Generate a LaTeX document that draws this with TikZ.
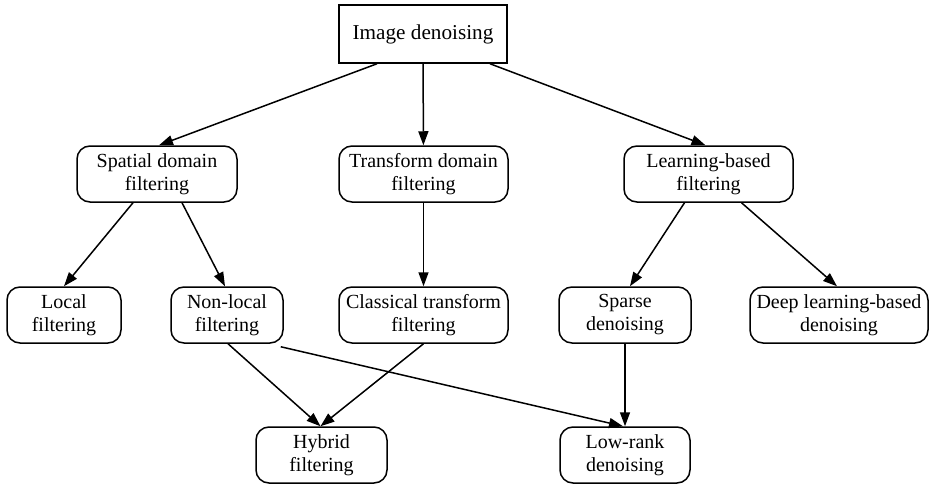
\documentclass[tikz,border=0pt]{standalone}
\usepackage{fontspec}
\setmainfont{Liberation Serif}
\usetikzlibrary{arrows.meta}
\begin{document}
\begin{tikzpicture}[x=1pt,y=-1pt,
        box/.style={draw,line width=1.5pt,rounded corners=13pt,align=center,
          minimum height=56pt,inner sep=0pt,
          font=\fontsize{20pt}{23pt}\selectfont},
        topbox/.style={box,rounded corners=0pt,minimum height=58pt,
          font=\fontsize{21.2pt}{24pt}\selectfont},
        arr/.style={line width=1.5pt,-{Triangle[length=14pt,width=10pt]}}]
        \useasboundingbox (0,0) rectangle (930,485);
        % top level
        \node[topbox,minimum width=168pt] (img) at (423,34) {Image denoising};
        % second level
        \node[box,minimum width=160pt] (spatial) at (157,174) {Spatial domain\\filtering};
        \node[box,minimum width=169pt] (transform) at (423.5,174) {Transform domain\\filtering};
        \node[box,minimum width=169pt] (learn) at (708.5,174) {Learning-based\\filtering};
        % third level
        \node[box,minimum width=114pt] (local) at (64,315) {Local\\filtering};
        \node[box,minimum width=112pt] (nonlocal) at (227,315) {Non-local\\filtering};
        \node[box,minimum width=169pt] (classical) at (423.5,315) {Classical transform\\filtering};
        \node[box,minimum width=132pt] (sparse) at (625,315) {Sparse\\denoising};
        \node[box,minimum width=178pt] (deep) at (839,315) {Deep learning-based\\denoising};
        % bottom level
        \node[box,minimum width=131pt] (hybrid) at (321.5,455) {Hybrid\\filtering};
        \node[box,minimum width=130pt] (lowrank) at (625,455) {Low-rank\\denoising};
        % edges
        \draw[arr] ([xshift=-46pt]img.south) -- ([xshift=2pt]spatial.north);
        \draw[arr] (img) -- (transform);
        \draw[arr] ([xshift=67pt]img.south) -- ([xshift=-3pt]learn.north);
        \draw[arr] ([xshift=-24pt]spatial.south) -- (local.north);
        \draw[arr] ([xshift=25pt]spatial.south) -- ([xshift=-2pt]nonlocal.north);
        \draw[arr] (transform) -- (classical);
        \draw[arr] ([xshift=-24pt]learn.south) -- ([xshift=5pt]sparse.north);
        \draw[arr] ([xshift=33pt]learn.south) -- ([xshift=-2pt]deep.north);
        \draw[arr] ([xshift=1pt]nonlocal.south) -- ([xshift=-1pt]hybrid.north);
        \draw[arr] (classical.south) -- ([xshift=-1pt]hybrid.north);
        \draw[arr] ([xshift=-3pt,yshift=-3pt]nonlocal.south east) -- ([xshift=-2pt]lowrank.north);
        \draw[arr] (sparse) -- (lowrank);
\end{tikzpicture}
\end{document}
